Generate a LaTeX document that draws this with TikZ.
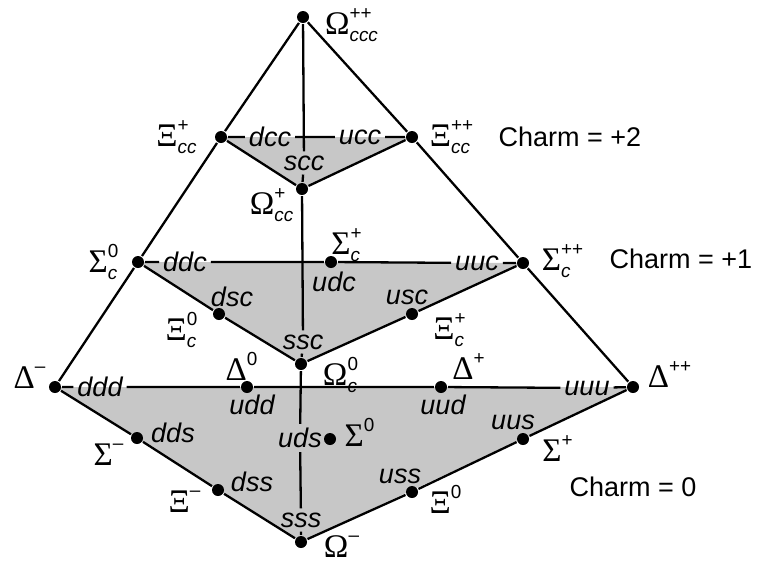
\documentclass[tikz,border=0pt]{standalone}
\usepackage{amsmath}
\usepackage{fontspec}
\setmainfont{Liberation Sans}
\newfontfamily\grk{Liberation Serif}
\usetikzlibrary{positioning,backgrounds}
\newcommand{\bary}[3]{$\text{\grk\fontsize{16.5}{18}\selectfont #1}^{\text{#3}}_{\textit{#2}}$}

\begin{document}
\begin{tikzpicture}[x=0.5pt,y=-0.5pt,line width=1.15pt,
 font=\fontsize{13.5}{16}\selectfont,
 dot/.style={circle,fill,inner sep=0pt,minimum size=6pt},
 qk/.style={font=\fontsize{13.5}{16}\selectfont\itshape,inner sep=1.5pt},
 tint/.style={fill=black!22}]
\useasboundingbox (0,0) rectangle (760,579);
% charm = +2
\node[dot] (occc) at (303,17) {};
\node[dot] (xcc1) at (221,137) {};
\node[dot] (xcc2) at (412,137) {};
\node[dot] (occ) at (302,189) {};
% charm = +1
\node[dot] (sc0) at (138,262) {};
\node[dot] (sc1) at (331,262) {};
\node[dot] (sc2) at (523,263) {};
\node[dot] (xc0) at (219,314) {};
\node[dot] (xc1) at (412,314) {};
\node[dot] (oc) at (301,364) {};
% charm = 0
\node[dot] (dm) at (55,387) {};
\node[dot] (d0) at (247,387) {};
\node[dot] (dp) at (441,387) {};
\node[dot] (dpp) at (633,387) {};
\node[dot] (sm) at (137,438) {};
\node[dot] (s0) at (330,439) {};
\node[dot] (sp) at (523,439) {};
\node[dot] (xm) at (218,490) {};
\node[dot] (x0) at (412,492) {};
\node[dot] (om) at (301,542) {};
% quark content
\node[qk] (dcc) at (270,137) {dcc};
\node[qk] (ucc) at (360,137) {ucc};
\node[qk] (scc) at (304,163) {scc};
\node[qk] (ddc) at (185,262) {ddc};
\node[qk] (udc) at (334,282) {udc};
\node[qk] (uuc) at (477,263) {uuc};
\node[qk] (dsc) at (232,297) {dsc};
\node[qk] (usc) at (407,297) {usc};
\node[qk] (ssc) at (303,342) {ssc};
\node[qk] (ddd) at (100,387) {ddd};
\node[qk] (udd) at (252,405) {udd};
\node[qk] (uud) at (443,405) {uud};
\node[qk] (uuu) at (587,388) {uuu};
\node[qk] (dds) at (173,433) {dds};
\node[qk] (uds) at (300,438) {uds};
\node[qk] (uus) at (513,422) {uus};
\node[qk] (dss) at (252,482) {dss};
\node[qk] (uss) at (400,476) {uss};
\node[qk] (sss) at (301,520) {sss};
% particle names
\node (l-occc) at (352,25) {\bary{Ω}{ccc}{++}};
\node (l-xcc1) at (177,137) {\bary{Ξ}{cc}{+}};
\node (l-xcc2) at (452,137) {\bary{Ξ}{cc}{++}};
\node (l-occ) at (272,205) {\bary{Ω}{cc}{+}};
\node (l-sc0) at (104,262) {\bary{Σ}{c}{0}};
\node (l-sc1) at (347,245) {\bary{Σ}{c}{+}};
\node (l-sc2) at (563,261) {\bary{Σ}{c}{++}};
\node (l-xc0) at (182,330) {\bary{Ξ}{c}{0}};
\node (l-xc1) at (450,330) {\bary{Ξ}{c}{+}};
\node (l-oc) at (341,375) {\bary{Ω}{c}{0}};
\node (l-dm) at (30,381) {\bary{Δ}{}{\textendash}};
\node (l-d0) at (242,370) {\bary{Δ}{}{0}};
\node (l-dp) at (469,370) {\bary{Δ}{}{+}};
\node (l-dpp) at (670,378) {\bary{Δ}{}{++}};
\node (l-sm) at (109,458) {\bary{Σ}{}{\textendash}};
\node (l-s0) at (360,436) {\bary{Σ}{}{0}};
\node (l-sp) at (558,452) {\bary{Σ}{}{+}};
\node (l-xm) at (185,505) {\bary{Ξ}{}{\textendash}};
\node (l-x0) at (446,503) {\bary{Ξ}{}{0}};
\node (l-om) at (342,550) {\bary{Ω}{}{\textendash}};
\node (c2) at (570,137) {Charm = +2};
\node (c1) at (681,259) {Charm = +1};
\node (c0) at (633,487) {Charm = 0};
% edges
\draw (occc) -- (xcc1) -- (sc0) -- (dm);
\draw (occc) -- (xcc2) -- (sc2) -- (dpp);
\draw (occc) -- (scc) -- (occ) -- (ssc) -- (oc) -- (uds) -- (sss) -- (om);
\draw (xcc1) -- (dcc) -- (ucc) -- (xcc2) -- (occ) -- (xcc1);
\draw (sc0) -- (ddc) -- (sc1) -- (uuc) -- (sc2) -- (xc1) -- (oc) -- (xc0) -- (sc0);
\draw (dm) -- (ddd) -- (d0) -- (dp) -- (uuu) -- (dpp) -- (sp) -- (x0) -- (om) -- (xm) -- (sm) -- (dm);
\begin{scope}[on background layer]
\fill[tint] (xcc1.center) -- (xcc2.center) -- (occ.center) -- cycle;
\fill[tint] (sc0.center) -- (sc2.center) -- (oc.center) -- cycle;
\fill[tint] (dm.center) -- (dpp.center) -- (om.center) -- cycle;
\end{scope}
\end{tikzpicture}
\end{document}
